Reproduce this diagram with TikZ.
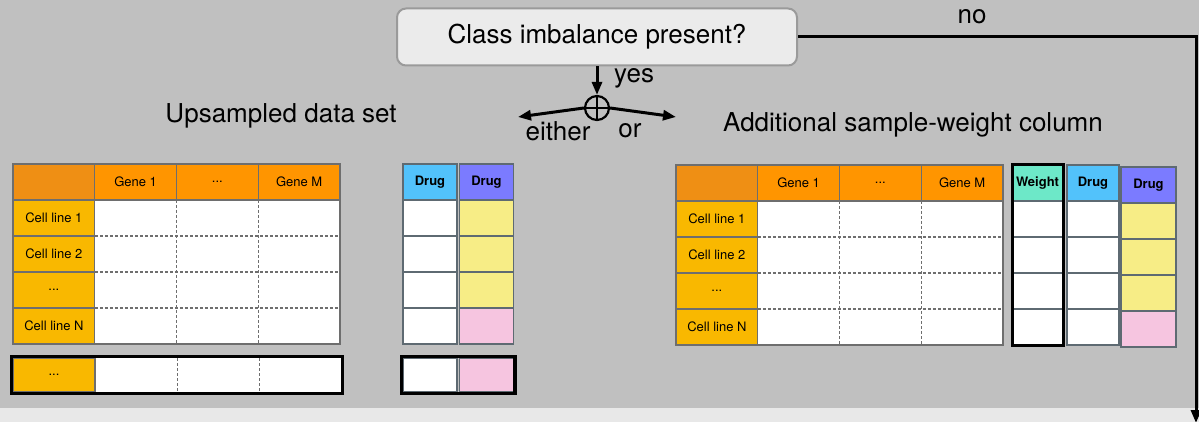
\documentclass[tikz,border=0pt]{standalone}
\usepackage{fontspec}
\setmainfont{TeX Gyre Heros}
\usepackage{tikz}
\usetikzlibrary{arrows.meta, positioning, fit, shapes.geometric}
\usepackage{xcolor}
\definecolor{bggray}{RGB}{192,192,192}
\definecolor{stripgray}{RGB}{232,232,232}
\definecolor{boxfill}{RGB}{235,235,235}
\definecolor{boxgray}{RGB}{154,154,154}
\definecolor{cornerorange}{RGB}{239,143,20}
\definecolor{geneorange}{RGB}{255,149,0}
\definecolor{cellgold}{RGB}{249,184,0}
\definecolor{drugblue}{RGB}{82,194,251}
\definecolor{drugpurple}{RGB}{123,123,255}
\definecolor{drugyellow}{RGB}{247,237,134}
\definecolor{drugpink}{RGB}{246,197,224}
\definecolor{weightteal}{RGB}{109,232,200}
\definecolor{gridgray}{RGB}{110,110,110}
\definecolor{druggray}{RGB}{94,106,114}
\newcommand{\bigfont}{\fontsize{26}{30}\selectfont}
\newcommand{\cellfont}{\fontsize{13}{15}\selectfont}
\newcommand{\celldots}{...}
\tikzset{
  basecell/.style={rectangle, inner sep=0pt, outer sep=0pt, font=\cellfont},
  genecell/.style={basecell, minimum width=81.75pt, minimum height=36pt},
  corner/.style={genecell, draw=gridgray, line width=1.3pt, fill=cornerorange},
  geneh/.style={genecell, draw=gridgray, line width=1.3pt, fill=geneorange},
  rowh/.style={genecell, draw=gridgray, line width=1.3pt, fill=cellgold},
  datacell/.style={genecell, fill=white},
  gridline/.style={draw=gridgray, line width=1.3pt, dash pattern=on 3pt off 2pt},
  cellline/.style={draw=gridgray, line width=1.3pt},
  drugcell/.style={basecell, minimum width=54pt, minimum height=36pt, draw=druggray, line width=1.5pt, fill=white},
  drughA/.style={drugcell, fill=drugblue, font=\cellfont\bfseries},
  drughB/.style={drugcell, fill=drugpurple, font=\cellfont\bfseries},
  weighth/.style={drugcell, minimum width=51pt, fill=weightteal, font=\cellfont\bfseries},
  extrabox/.style={rectangle, draw=black, line width=3.5pt, inner sep=1.5pt},
  decision/.style={rectangle, rounded corners=9pt, draw=boxgray, fill=boxfill, line width=2pt,
    minimum width=400pt, minimum height=57pt, font=\bigfont},
  joinnode/.style={circle, draw=black, line width=2.2pt, minimum size=24pt, inner sep=0pt},
  lbltext/.style={font=\bigfont, inner sep=0pt},
  arrow/.style={-{Triangle[length=13pt, width=10pt]}, line width=3pt, draw=black}
}
% expression table: #1 name prefix, #2/#3 top-left corner
\newcommand{\genetable}[3]{%
  \node[corner] (#1-0-0) at ({#2+40.875},{#3+18}) {};
  \foreach \lbl [count=\col] in {Gene 1,\celldots,Gene M}
    \node[geneh] (#1-0-\col) at ({#2+40.875+81.75*\col},{#3+18}) {\lbl};
  \foreach \lbl [count=\row] in {Cell line 1,Cell line 2,\celldots,Cell line N}{
    \node[rowh] (#1-\row-0) at ({#2+40.875},{#3+18+36*\row}) {\lbl};
    \foreach \col in {1,2,3}
      \node[datacell] (#1-\row-\col) at ({#2+40.875+81.75*\col},{#3+18+36*\row}) {};
  }
  \foreach \col in {1,2}
    \draw[gridline] (#1-1-\col.north east) -- (#1-4-\col.south east);
  \foreach \row in {1,2,3}
    \draw[gridline] (#1-\row-1.south west) -- (#1-\row-3.south east);
  \draw[cellline] (#1-1-1.north west) rectangle (#1-4-3.south east);
}
\begin{document}
\begin{tikzpicture}[x=1pt, y=-1pt]
  \useasboundingbox (0,0) rectangle (1199,422);
  \fill[bggray] (0,0) rectangle (1199,408);
  \fill[stripgray] (0,408) rectangle (1199,422);

  % decision and branching
  \node[decision] (imb) at (597,37) {Class imbalance present?};
  \node[joinnode] (join) at (597,108) {};
  \draw[line width=2.2pt] (join.north) -- (join.south) (join.west) -- (join.east);
  \coordinate (eitherend) at (518,117);
  \coordinate (orend) at (676,117);
  \coordinate (noend) at (1196,423);
  \draw[arrow] (imb.south) -- (join.north);
  \draw[arrow] (join.west) -- (eitherend);
  \draw[arrow] (join.east) -- (orend);
  \draw[arrow] (imb.east) -| (noend);
  \node[lbltext, anchor=west] (yes) at (614,78) {yes};
  \node[lbltext] (either) at (558,131) {either};
  \node[lbltext] (or) at (630,131) {or};
  \node[lbltext] (no) at (972,17) {no};
  \node[lbltext] (upslbl) at (281,116) {Upsampled data set};
  \node[lbltext] (swlbl) at (913,125) {Additional sample-weight column};

  % upsampled data set
  \genetable{up}{13}{164}
  \node[rowh, minimum height=34pt] (upx-0) at (54,375) {\celldots};
  \foreach \col in {1,2,3}
    \node[datacell, minimum height=34pt] (upx-\col) at ({54.875+81.75*\col},375) {};
  \foreach \col in {1,2}
    \draw[gridline] (upx-\col.north east) -- (upx-\col.south east);
  \node[extrabox, fit=(upx-0)(upx-3)] (upxbox) {};

  \node[drughA] (ud-0-1) at (430,182) {Drug};
  \node[drughB] (ud-0-2) at (486.5,182) {Drug};
  \foreach \row/\fc in {1/drugyellow,2/drugyellow,3/drugyellow,4/drugpink}{
    \node[drugcell] (ud-\row-1) at (430,{182+36*\row}) {};
    \node[drugcell, fill=\fc] (ud-\row-2) at (486.5,{182+36*\row}) {};
  }
  \node[drugcell, minimum height=34pt] (udx-1) at (430,375) {};
  \node[drugcell, minimum height=34pt, fill=drugpink] (udx-2) at (486.5,375) {};
  \node[extrabox, fit=(udx-1)(udx-2)] (udxbox) {};

  % sample-weight column
  \genetable{sw}{676}{165}
  \node[weighth] (sww-0) at (1037.5,183) {Weight};
  \foreach \row in {1,...,4}
    \node[drugcell, minimum width=51pt] (sww-\row) at (1037.5,{183+36*\row}) {};
  \node[extrabox, line width=3pt, inner sep=0pt, fit=(sww-0)(sww-4)] (swwbox) {};
  \node[drughA, minimum width=52pt] (swd-0-1) at (1093,183) {Drug};
  \node[drughB, minimum width=55pt] (swd-0-2) at (1148.5,185) {Drug};
  \foreach \row/\fc in {1/drugyellow,2/drugyellow,3/drugyellow,4/drugpink}{
    \node[drugcell, minimum width=52pt] (swd-\row-1) at (1093,{183+36*\row}) {};
    \node[drugcell, minimum width=55pt, fill=\fc] (swd-\row-2) at (1148.5,{185+36*\row}) {};
  }
\end{tikzpicture}
\end{document}
